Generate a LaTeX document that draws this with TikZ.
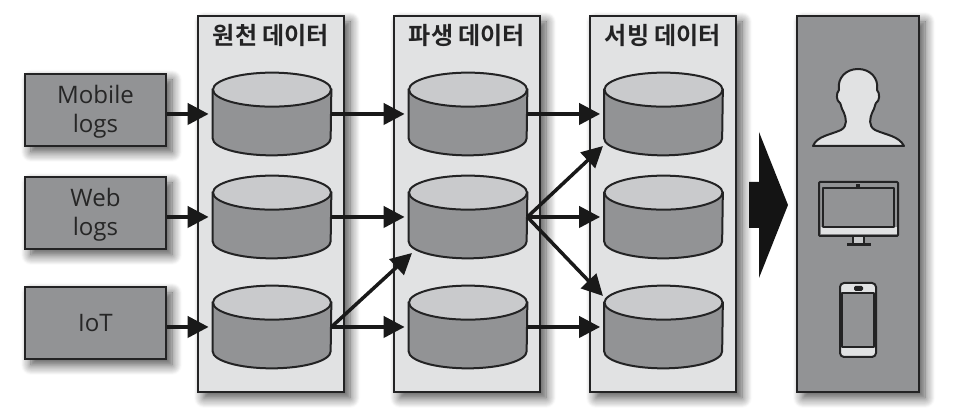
\documentclass[tikz,border=0pt]{standalone}
\usepackage{fontspec}
\setmainfont{Open Sans}
\newfontfamily\krfont{Noto Sans CJK KR Bold}
\usepackage{tikz}
\usetikzlibrary{arrows.meta, positioning, shadows.blur}

\definecolor{edgegray}{HTML}{232324}
\definecolor{midgray}{HTML}{929395}
\definecolor{topgray}{HTML}{C9CACC}
\definecolor{panelgray}{HTML}{E1E2E3}

\newcommand{\storenode}[2]{%
  \node[storebox] (#1) at (#2) {};
  \draw[storeline, fill=midgray] ([yshift=-0.34cm]#1.north west) -- ([yshift=0.34cm]#1.south west)
    arc[start angle=180, end angle=360, x radius=1.18, y radius=0.34] -- ([yshift=-0.34cm]#1.north east) -- cycle;
  \draw[storeline, fill=topgray] ([yshift=-0.34cm]#1.north) ellipse [x radius=1.18, y radius=0.34];
}

\begin{document}
\begin{tikzpicture}[
      softshadow/.style={blur shadow={shadow xshift=0.12cm, shadow yshift=-0.12cm, shadow blur steps=10, shadow blur radius=0.2cm, shadow opacity=70}},
      srcbox/.style={rectangle, draw=edgegray, line width=0.04cm, fill=midgray, softshadow, inner sep=0pt, minimum width=2.82cm, minimum height=1.44cm, align=center, font=\fontsize{13.7pt}{16.5pt}\selectfont, text=black!85},
      panel/.style={rectangle, draw=edgegray, line width=0.04cm, fill=panelgray, softshadow, inner sep=0pt, minimum width=2.92cm, minimum height=7.52cm},
      title/.style={font=\krfont\fontsize{13.7pt}{16pt}\selectfont, text=edgegray, inner sep=0pt},
      storebox/.style={rectangle, inner sep=0pt, minimum width=2.36cm, minimum height=1.64cm},
      storeline/.style={draw=edgegray, line width=0.04cm},
      flow/.style={-{Triangle[length=0.42cm, width=0.42cm]}, line width=0.08cm, draw=black!90, shorten >=0.08cm},
      flowthin/.style={flow, line width=0.07cm, shorten >=0pt},
      icon/.style={draw=edgegray, line width=0.04cm, line join=round},
    ]
      \useasboundingbox (0,0) rectangle (19.24,8.24);

      \node[panel] (rawpanel) at (5.42,4.16) {};
      \node[panel] (derivedpanel) at (9.34,4.16) {};
      \node[panel] (servingpanel) at (13.26,4.16) {};
      \node[panel, fill=midgray, minimum width=2.44cm] (clientpanel) at (17.16,4.16) {};

      \node[title] (rawtitle) at (5.42,7.54) {원천 데이터};
      \node[title] (derivedtitle) at (9.34,7.54) {파생 데이터};
      \node[title] (servingtitle) at (13.26,7.54) {서빙 데이터};

      \node[srcbox] (mobile) at (1.91,6.04) {\rule{0pt}{0.44cm}Mobile\\logs};
      \node[srcbox] (web) at (1.91,3.98) {\rule{0pt}{0.44cm}Web\\logs};
      \node[srcbox] (iot) at (1.91,1.78) {IoT};

      \storenode{raw1}{5.44,5.96}
      \storenode{raw2}{5.44,3.90}
      \storenode{raw3}{5.44,1.70}
      \storenode{derived1}{9.36,5.96}
      \storenode{derived2}{9.36,3.90}
      \storenode{derived3}{9.36,1.70}
      \storenode{serving1}{13.27,5.96}
      \storenode{serving2}{13.27,3.90}
      \storenode{serving3}{13.27,1.70}

      \coordinate (derivedin) at (8.24,3.18);
      \coordinate (servingup) at (12.06,5.32);
      \coordinate (servingdown) at (12.06,2.32);

      \draw[flow] (mobile.east |- raw1.west) -- (raw1.west);
      \draw[flow] (web.east |- raw2.west) -- (raw2.west);
      \draw[flow] (iot.east |- raw3.west) -- (raw3.west);
      \draw[flow] (raw1.east) -- (derived1.west);
      \draw[flow] (raw2.east) -- (derived2.west);
      \draw[flow] (raw3.east) -- (derived3.west);
      \draw[flowthin] (raw3.east) -- (derivedin);
      \draw[flow] (derived1.east) -- (serving1.west);
      \draw[flow] (derived2.east) -- (serving2.west);
      \draw[flow] (derived3.east) -- (serving3.west);
      \draw[flowthin] (derived2.east) -- (servingup);
      \draw[flowthin] (derived2.east) -- (servingdown);

      % big arrow
      \fill[black!92] (14.98,4.60) -- (15.18,4.60) -- (15.18,5.60) -- (15.76,4.14) -- (15.18,2.68) -- (15.18,3.68) -- (14.98,3.68) -- cycle;

      % person
      \draw[icon, fill=panelgray] (16.26,5.32) .. controls (16.34,5.52) and (16.60,5.54) .. (16.82,5.64)
        .. controls (16.96,5.72) and (16.92,5.88) .. (16.88,5.98)
        .. controls (16.82,6.08) and (16.82,6.16) .. (16.80,6.18)
        .. controls (16.72,6.22) and (16.72,6.38) .. (16.78,6.44)
        .. controls (16.74,6.68) and (16.92,6.86) .. (17.16,6.86)
        .. controls (17.40,6.86) and (17.58,6.68) .. (17.54,6.44)
        .. controls (17.60,6.38) and (17.60,6.22) .. (17.52,6.18)
        .. controls (17.50,6.16) and (17.50,6.08) .. (17.44,5.98)
        .. controls (17.40,5.88) and (17.36,5.72) .. (17.50,5.64)
        .. controls (17.72,5.54) and (17.98,5.52) .. (18.08,5.32) -- cycle;

      % monitor
      \draw[icon, fill=topgray] (17.06,3.52) rectangle (17.28,3.36);
      \fill[edgegray] (16.94,3.38) rectangle (17.42,3.32);
      \draw[icon, fill=midgray, rounded corners=0.02cm] (16.38,4.60) rectangle (17.96,3.52);
      \fill[panelgray] (16.41,3.70) rectangle (17.93,3.55);
      \draw[icon, fill=midgray] (16.46,4.48) rectangle (17.88,3.70);
      \fill[edgegray] (17.12,4.56) rectangle (17.20,4.48);

      % phone
      \draw[icon, fill=panelgray, rounded corners=0.08cm] (16.80,2.58) rectangle (17.52,1.10);
      \draw[icon, fill=midgray] (16.84,2.38) rectangle (17.48,1.30);
      \fill[edgegray, rounded corners=0.03cm] (17.08,2.52) rectangle (17.26,2.42);
    \end{tikzpicture}
\end{document}
